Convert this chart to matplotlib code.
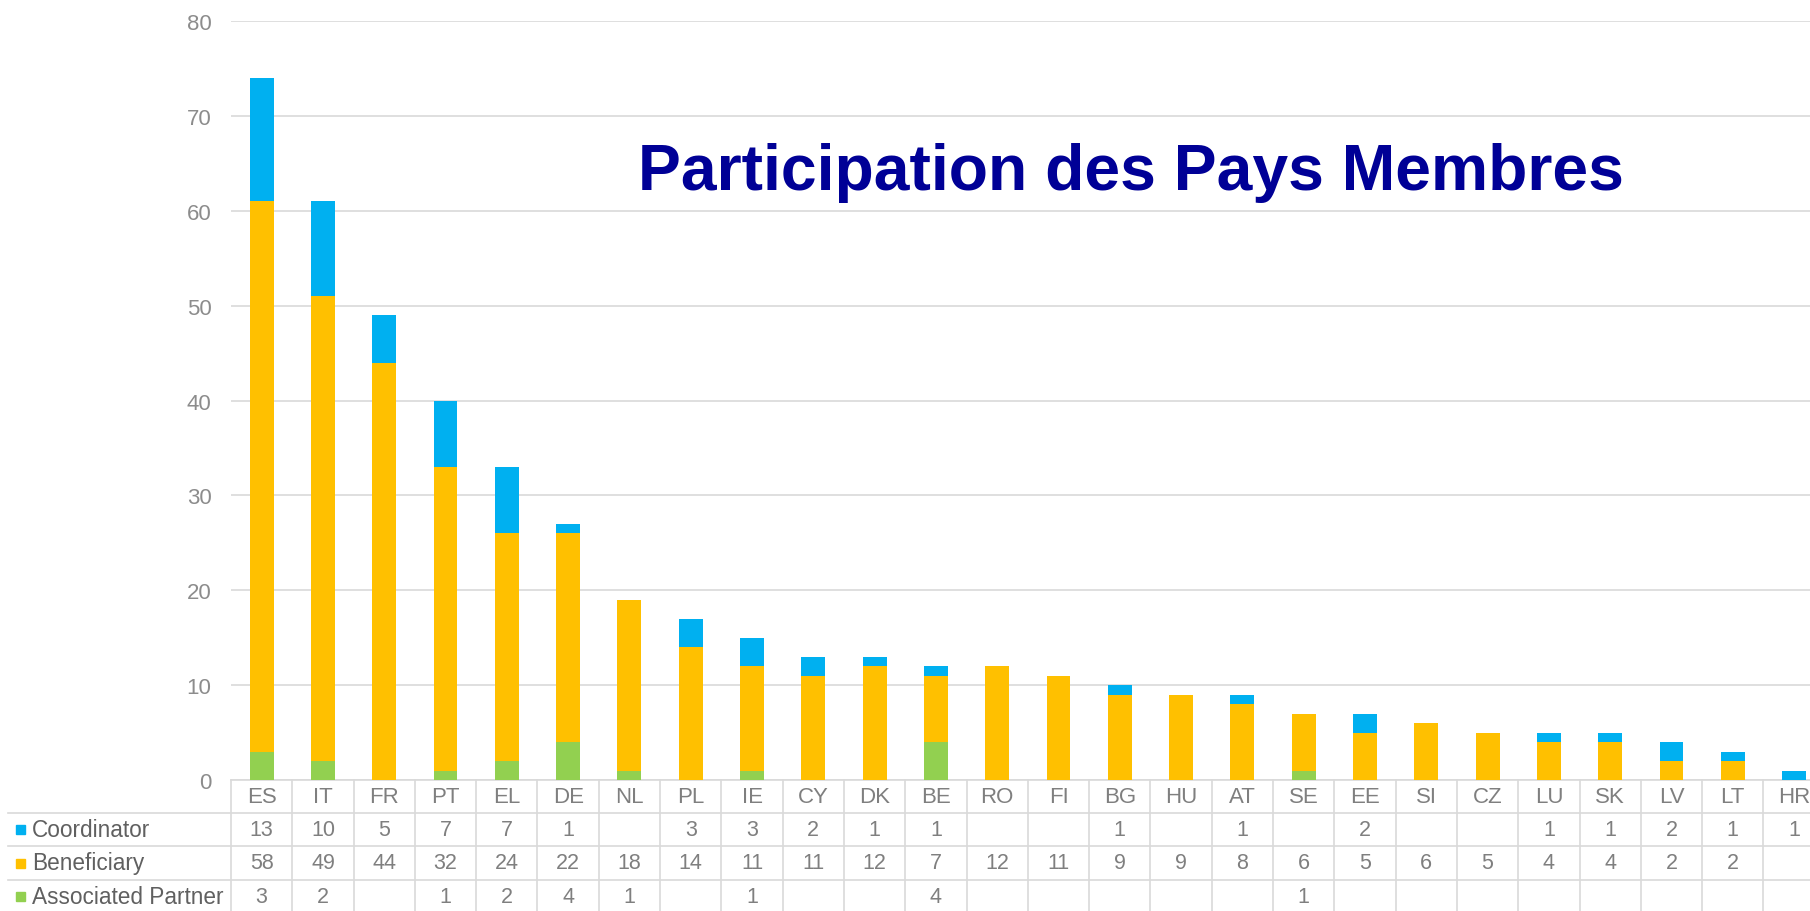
import matplotlib
matplotlib.use("Agg")
import matplotlib.pyplot as plt
import numpy as np
from matplotlib.transforms import blended_transform_factory
from matplotlib.patches import Rectangle

countries = ["ES", "IT", "FR", "PT", "EL", "DE", "NL", "PL", "IE", "CY", "DK", "BE", "RO",
             "FI", "BG", "HU", "AT", "SE", "EE", "SI", "CZ", "LU", "SK", "LV", "LT", "HR"]
coordinator = [13, 10, 5, 7, 7, 1, 0, 3, 3, 2, 1, 1, 0, 0, 1, 0, 1, 0, 2, 0, 0, 1, 1, 2, 1, 1]
beneficiary = [58, 49, 44, 32, 24, 22, 18, 14, 11, 11, 12, 7, 12, 11, 9, 9, 8, 6, 5, 6, 5, 4, 4, 2, 2, 0]
associated = [3, 2, 0, 1, 2, 4, 1, 0, 1, 0, 0, 4, 0, 0, 0, 0, 0, 1, 0, 0, 0, 0, 0, 0, 0, 0]
series_names = ["Coordinator", "Beneficiary", "Associated Partner"]
yticks = [0, 10, 20, 30, 40, 50, 60, 70, 80]
title = "Participation des Pays Membres"

C_COORD = "#00B0F0"
C_BENEF = "#FFC000"
C_ASSOC = "#92D050"
GRID = "#d9d9d9"
TXT = "#7f7f7f"

W, H = 1810, 912
fig = plt.figure(figsize=(W / 100, H / 100), dpi=100)
plt.rcParams['font.family'] = ['Liberation Sans', 'DejaVu Sans']

ax_left = 231 / W
ax_bottom = 1 - 781 / H
ax_top = 1 - 22 / H
ax = fig.add_axes([ax_left, ax_bottom, 1 - ax_left, ax_top - ax_bottom])

x = np.arange(len(countries))
a = np.array(associated)
b = np.array(beneficiary)
c = np.array(coordinator)
bw = 0.39
ax.bar(x, a, bw, color=C_ASSOC, zorder=3)
ax.bar(x, b, bw, bottom=a, color=C_BENEF, zorder=3)
ax.bar(x, c, bw, bottom=a + b, color=C_COORD, zorder=3)

ax.set_xlim(-0.5, 25.26)
ax.set_ylim(0, 80)
ax.set_yticks(yticks)
ax.set_yticklabels([str(v) for v in yticks], fontsize=16, color="#8c8c8c")
ax.tick_params(axis='y', length=0, pad=14)
ax.set_xticks([])
for s in ["top", "right", "left"]:
    ax.spines[s].set_visible(False)
ax.spines["bottom"].set_color(GRID)
ax.spines["bottom"].set_linewidth(1.2)
ax.grid(axis='y', color=GRID, linewidth=1.2, zorder=0)
ax.set_axisbelow(True)

# title
fig.text(1131 / W, 1 - 190 / H, title, ha='center', va='baseline',
         fontsize=46.3, fontweight='bold', color="#000096")

# table
tr = blended_transform_factory(ax.transData, fig.transFigure)
row_edges_px = [781, 814, 847, 881, 914]
row_edges = [1 - p / H for p in row_edges_px]
row_centers = [(row_edges[i] + row_edges[i + 1]) / 2 for i in range(4)]

# horizontal lines
for yy in row_edges[1:4]:
    fig.add_artist(plt.Line2D([8 / W, 1], [yy, yy], transform=fig.transFigure,
                              color=GRID, linewidth=1.2))
# vertical lines
for i in range(len(countries) + 1):
    ax.plot([i - 0.5, i - 0.5], [row_edges[0], row_edges[4]], transform=tr,
            color=GRID, linewidth=1.2, clip_on=False)

for i, cc in enumerate(countries):
    ax.text(i, row_centers[0], cc, transform=tr, ha='center', va='center',
            fontsize=16, color=TXT, clip_on=False)
for r, vals in enumerate([coordinator, beneficiary, associated]):
    for i, v in enumerate(vals):
        if v:
            ax.text(i, row_centers[r + 1], str(v), transform=tr, ha='center', va='center',
                    fontsize=15.5, color=TXT, clip_on=False)

for r, (name, col) in enumerate(zip(series_names, [C_COORD, C_BENEF, C_ASSOC])):
    yc = row_centers[r + 1]
    sq = 9
    fig.add_artist(Rectangle((16 / W, yc - sq / 2 / H), sq / W, sq / H,
                             transform=fig.transFigure, color=col))
    fig.text(32 / W, yc, name, ha='left', va='center', fontsize=16.3, color="#606060")

fig.savefig("out.png", dpi=100)
